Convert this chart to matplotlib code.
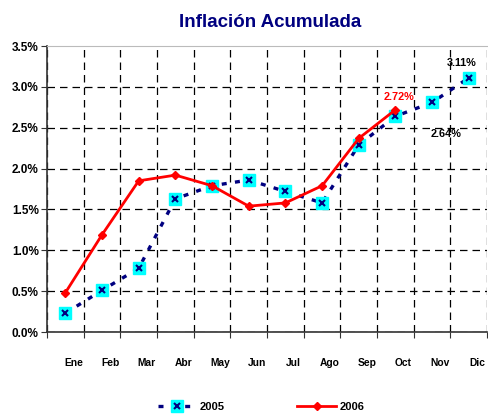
import matplotlib.pyplot as plt
import matplotlib.transforms as mtransforms
from matplotlib.legend_handler import HandlerTuple
from matplotlib.ticker import FuncFormatter
import numpy as np

meses = ['Ene', 'Feb', 'Mar', 'Abr', 'May', 'Jun', 'Jul', 'Ago', 'Sep', 'Oct', 'Nov', 'Dic']
inf_2005 = [0.23, 0.51, 0.78, 1.63, 1.79, 1.86, 1.72, 1.58, 2.29, 2.64, 2.81, 3.11]
inf_2006 = [0.48, 1.19, 1.85, 1.92, 1.79, 1.54, 1.58, 1.79, 2.37, 2.72]

plt.rcParams['font.family'] = ['Liberation Sans', 'DejaVu Sans']
navy = '#000080'

fig = plt.figure(figsize=(4.88, 4.16), dpi=100)
ax = fig.add_axes([0.0963, 0.2019, 0.902, 0.6875])

x05 = np.arange(len(inf_2005)) + 0.5
x06 = np.arange(len(inf_2006)) + 0.5

# 2005: linea punteada azul con cuadros cian
l05, = ax.plot(x05, inf_2005, color=navy, lw=2.4, ls=(0, (1.5, 2.5)),
               marker='s', ms=8, mfc='#00ffff', mec='#00ffff', zorder=3)
x05m, = ax.plot(x05, inf_2005, ls='none', marker='x', ms=5, mew=1.5,
                color=navy, zorder=4)
# 2006: linea roja con rombos
l06, = ax.plot(x06, inf_2006, color='red', lw=2, marker='D', ms=4.5,
               mfc='red', mec='red', zorder=5)

ax.set_xlim(0, 12)
ax.set_ylim(0, 3.5)
ax.set_yticks(np.arange(0, 3.51, 0.5))
ax.yaxis.set_major_formatter(FuncFormatter(lambda v, p: f'{v:.1f}%'))
ax.set_xticks(np.arange(0, 13))
ax.set_xticklabels([])
ax.set_xticks(np.arange(12) + 0.5, minor=True)
ax.set_xticklabels(meses, minor=True)
ax.tick_params(axis='x', which='minor', length=0, pad=19)
ax.tick_params(axis='x', which='major', length=4, direction='out', color='#333333')
ax.tick_params(axis='y', length=4, direction='out', color='#333333', pad=2)

offset = mtransforms.ScaledTranslation(8 / 100, 0, fig.dpi_scale_trans)
for lab in ax.get_xticklabels(minor=True):
    lab.set_fontsize(7.4)
    lab.set_fontweight('bold')
    lab.set_transform(lab.get_transform() + offset)
for lab in ax.get_yticklabels():
    lab.set_fontsize(8.5)
    lab.set_fontweight('bold')

ax.grid(True, which='major', color='black', ls=(0, (6, 4)), lw=0.9)
ax.yaxis.get_gridlines()[-1].set_visible(False)
ax.set_axisbelow(True)
for s in ['left', 'bottom']:
    ax.spines[s].set_color('#333333')
    ax.spines[s].set_linewidth(1.2)
ax.spines['top'].set_color('#bbbbbb')
ax.spines['right'].set_visible(False)

# etiquetas de valores
ax.text(x06[-1] + 0.1, inf_2006[-1] + 0.15, f'{inf_2006[-1]:.2f}%', color='red',
        fontsize=7.8, fontweight='bold', ha='center', va='center')
ax.text(x05[9] + 1.38, inf_2005[9] - 0.22, f'{inf_2005[9]:.2f}%', color='black',
        fontsize=7.8, fontweight='bold', ha='center', va='center')
ax.text(x05[11] - 0.2, inf_2005[11] + 0.18, f'{inf_2005[11]:.2f}%', color='black',
        fontsize=7.8, fontweight='bold', ha='center', va='center')

fig.text(0.553, 0.945, 'Inflación Acumulada', color=navy, fontsize=13.5,
         fontweight='bold', ha='center', va='center')

fig.legend([(l05, x05m), l06], ['2005', '2006'],
           handler_map={tuple: HandlerTuple(ndivide=1)},
           loc='center', bbox_to_anchor=(0.535, 0.022), ncol=2, frameon=False,
           columnspacing=6.5, handlelength=3.5, handletextpad=0.3,
           prop={'weight': 'bold', 'size': 8})

fig.savefig('out.png', dpi=100)
